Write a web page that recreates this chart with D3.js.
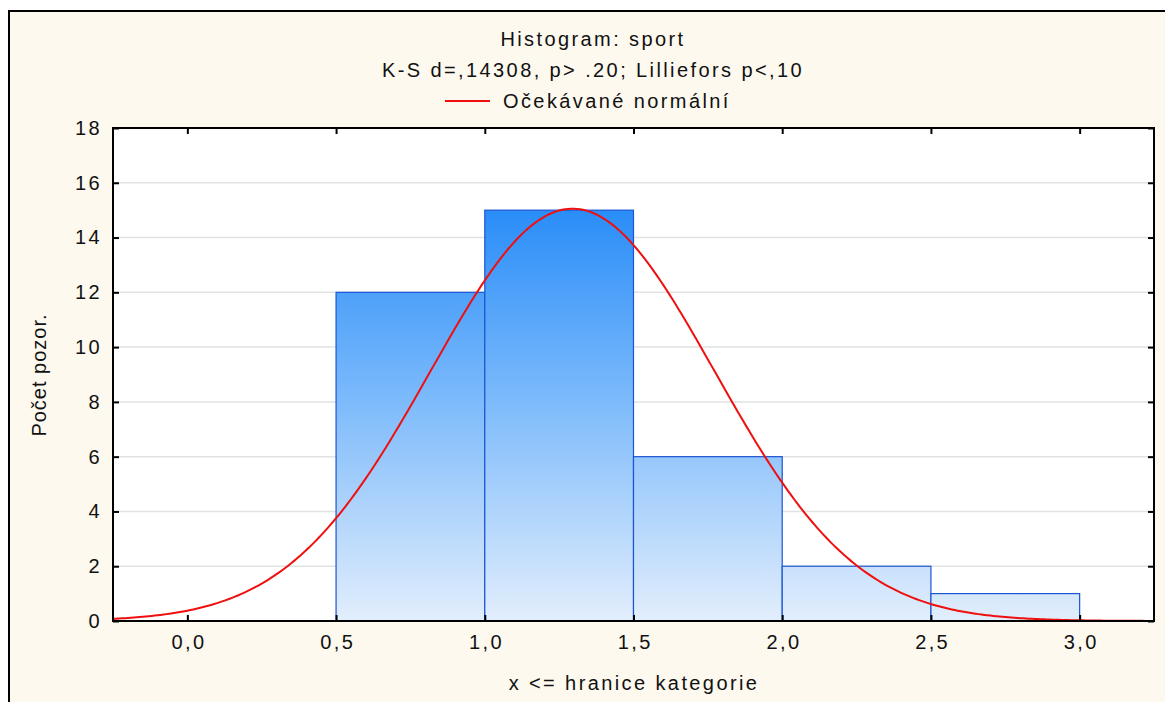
<!DOCTYPE html>
<html>
<head>
<meta charset="utf-8">
<script src="https://cdn.jsdelivr.net/npm/d3@7"></script>
<style>
  body { margin: 0; background: #ffffff; }
  svg { display: block; font-family: "Liberation Sans", Arial, sans-serif; }
  text { letter-spacing: 2.4px; }
</style>
</head>
<body>
<div id="chart"></div>
<script>
// histogram bins (upper bounds) and counts
const binStarts = [0.5, 1.0, 1.5, 2.0, 2.5];
const binEnds = [1.0, 1.5, 2.0, 2.5, 3.0];
const counts = [12, 15, 6, 2, 1];
const xTicks = [0.0, 0.5, 1.0, 1.5, 2.0, 2.5, 3.0];
const yTicks = [0, 2, 4, 6, 8, 10, 12, 14, 16, 18];

// expected normal (mean / sd)
const normMean = 1.295;
const normSd = 0.477;

const titleLines = ["Histogram: sport", "K-S d=,14308, p> .20; Lilliefors p<,10"];
const legendLabel = "Očekávané normální";

const width = 1165, height = 702;
const plot = { left: 113, top: 128, right: 1154, bottom: 621 };

const svg = d3.select("#chart").append("svg")
  .attr("width", width)
  .attr("height", height);

// outer frame (cream background)
svg.append("rect")
  .attr("x", 9).attr("y", 11)
  .attr("width", width + 10).attr("height", height + 10)
  .attr("fill", "#fdf9ef")
  .attr("stroke", "#000").attr("stroke-width", 2);

const x = d3.scaleLinear().domain([-0.25, 3.25]).range([plot.left, plot.right]);
const y = d3.scaleLinear().domain([0, 18]).range([plot.bottom, plot.top]);

// plot background
svg.append("rect")
  .attr("x", plot.left).attr("y", plot.top)
  .attr("width", plot.right - plot.left).attr("height", plot.bottom - plot.top)
  .attr("fill", "#fff");

// gridlines
svg.append("g")
  .selectAll("line")
  .data(yTicks.filter(d => d > 0 && d < 18))
  .join("line")
  .attr("x1", plot.left).attr("x2", plot.right)
  .attr("y1", d => y(d)).attr("y2", d => y(d))
  .attr("stroke", "#e2e2e2").attr("stroke-width", 1.5);

// bar gradient
const defs = svg.append("defs");
const grad = defs.append("linearGradient")
  .attr("id", "barGrad")
  .attr("gradientUnits", "userSpaceOnUse")
  .attr("x1", 0).attr("x2", 0)
  .attr("y1", y(15)).attr("y2", y(0));
grad.append("stop").attr("offset", "0%").attr("stop-color", "#2a8df8");
grad.append("stop").attr("offset", "45%").attr("stop-color", "#7ab9fb");
grad.append("stop").attr("offset", "100%").attr("stop-color", "#e2eefc");

const bins = counts.map((c, i) => ({ x0: binStarts[i], x1: binEnds[i], n: c }));

svg.append("g")
  .selectAll("rect")
  .data(bins)
  .join("rect")
  .attr("x", d => x(d.x0))
  .attr("y", d => y(d.n))
  .attr("width", d => x(d.x1) - x(d.x0))
  .attr("height", d => y(0) - y(d.n))
  .attr("fill", "url(#barGrad)")
  .attr("stroke", "#1b55d4")
  .attr("stroke-width", 1.2);

// expected normal curve
const total = d3.sum(counts);
const binW = 0.5;
const pdf = v => total * binW / (normSd * Math.sqrt(2 * Math.PI)) *
  Math.exp(-((v - normMean) ** 2) / (2 * normSd * normSd));
const curvePts = d3.range(-0.25, 3.2501, 0.01).map(v => [v, pdf(v)]);

svg.append("path")
  .datum(curvePts)
  .attr("fill", "none")
  .attr("stroke", "#f00f0f")
  .attr("stroke-width", 2)
  .attr("d", d3.line().x(d => x(d[0])).y(d => y(d[1])));

// plot border
svg.append("rect")
  .attr("x", plot.left).attr("y", plot.top)
  .attr("width", plot.right - plot.left).attr("height", plot.bottom - plot.top)
  .attr("fill", "none")
  .attr("stroke", "#000").attr("stroke-width", 2);

// axes with inside ticks
const tickStyle = g => {
  g.select(".domain").remove();
  g.selectAll(".tick line").attr("stroke", "#000").attr("stroke-width", 2);
  g.selectAll(".tick text").attr("fill", "#111").style("font-size", "20px");
};
const fmt = d => d3.format(".1f")(d).replace(".", ",");

svg.append("g")
  .attr("transform", `translate(0,${plot.bottom})`)
  .call(d3.axisBottom(x).tickValues(xTicks).tickFormat(fmt).tickSizeInner(-6).tickPadding(14))
  .call(tickStyle)
  .selectAll(".tick text").attr("dx", "1.2px");
svg.append("g")
  .attr("transform", `translate(0,${plot.top})`)
  .call(d3.axisTop(x).tickValues(xTicks).tickFormat("").tickSizeInner(-6))
  .call(tickStyle);
svg.append("g")
  .attr("transform", `translate(${plot.left},0)`)
  .call(d3.axisLeft(y).tickValues(yTicks).tickFormat(d3.format("d")).tickSizeInner(-6).tickPadding(11))
  .call(tickStyle);
svg.append("g")
  .attr("transform", `translate(${plot.right},0)`)
  .call(d3.axisRight(y).tickValues(yTicks).tickFormat("").tickSizeInner(-6))
  .call(tickStyle);

// titles
svg.append("g")
  .selectAll("text")
  .data(titleLines)
  .join("text")
  .attr("x", 593).attr("y", (d, i) => 46 + i * 31)
  .attr("text-anchor", "middle")
  .style("font-size", "20px")
  .attr("fill", "#111")
  .text(d => d);

// legend
svg.append("line")
  .attr("x1", 445).attr("x2", 490).attr("y1", 101).attr("y2", 101)
  .attr("stroke", "#f00f0f").attr("stroke-width", 2);
svg.append("text")
  .attr("x", 503).attr("y", 108)
  .style("font-size", "20px")
  .attr("fill", "#111")
  .text(legendLabel);

// axis labels
svg.append("text")
  .attr("x", 634).attr("y", 690)
  .attr("text-anchor", "middle")
  .style("font-size", "20px")
  .attr("fill", "#111")
  .text("x <= hranice kategorie");
svg.append("text")
  .attr("transform", "translate(46,375) rotate(-90)")
  .attr("text-anchor", "middle")
  .style("font-size", "20px")
  .style("letter-spacing", "1px")
  .style("font-family", "'Liberation Sans Narrow', 'Arial Narrow', 'Liberation Sans', sans-serif")
  .attr("fill", "#111")
  .text("Počet pozor.");
</script>
</body>
</html>
